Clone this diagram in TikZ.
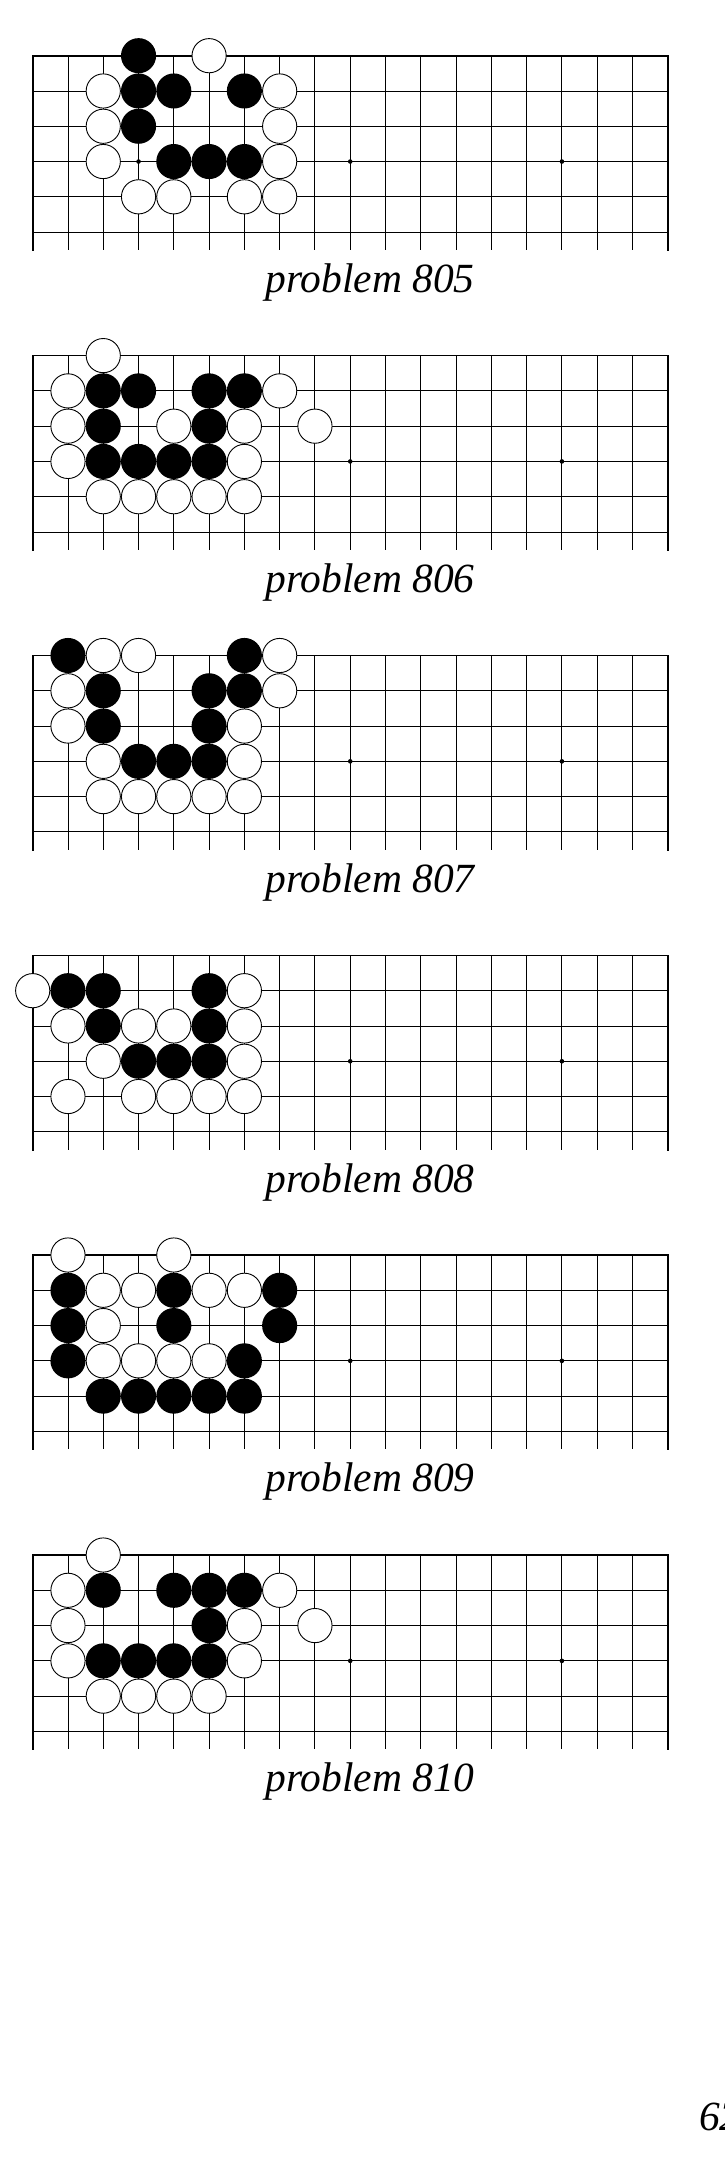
\documentclass[tikz,border=0pt]{standalone}
\usepackage{fontspec}
\setmainfont{Liberation Serif}
\tikzset{
  gridline/.style={line width=0.9pt, black},
  edgeline/.style={line width=1.7pt, black, line join=miter, line cap=rect},
  wstone/.style={fill=white, draw=black, line width=0.9pt},
  bstone/.style={fill=black},
  starpt/.style={fill=black},
  lab/.style={anchor=base, inner sep=0pt, font=\fontsize{41.5}{50}\selectfont\itshape}
}
\newcommand{\goboard}[5]{%
  \begin{scope}[shift={(0,#1)}]
    \foreach \r in {1,...,5} \draw[gridline] (32.7,\r*35.28) -- (667.74,\r*35.28);
    \foreach \c in {1,...,17} \draw[gridline] (32.7+\c*35.28,0) -- (32.7+\c*35.28,194.4);
    \draw[edgeline] (32.7,194.4) -- (32.7,0) -- (667.74,0) -- (667.74,194.4);
    \foreach \c in {3,9,15} \fill[starpt] (32.7+\c*35.28,3*35.28) circle (2.3);
    \foreach \c/\r in {#4} \draw[wstone] (32.7+\c*35.28,\r*35.28) circle (17.1);
    \foreach \c/\r in {#5} \fill[bstone] (32.7+\c*35.28,\r*35.28) circle (17.55);
    \node[lab] (#2) at (370,236.7) {problem #3};
  \end{scope}}
\begin{document}
\begin{tikzpicture}[x=1pt,y=-1pt]
\useasboundingbox (0,0) rectangle (724,2181);
\fill[white] (0,0) rectangle (724,2181);
\goboard{55.7}{p805}{805}%
  {5/0,2/1,7/1,2/2,7/2,2/3,7/3,3/4,4/4,6/4,7/4}%
  {3/0,3/1,4/1,6/1,3/2,4/3,5/3,6/3}
\goboard{355.6}{p806}{806}%
  {2/0,1/1,7/1,1/2,4/2,6/2,8/2,1/3,6/3,2/4,3/4,4/4,5/4,6/4}%
  {2/1,3/1,5/1,6/1,2/2,5/2,2/3,3/3,4/3,5/3}
\goboard{655.5}{p807}{807}%
  {2/0,3/0,7/0,1/1,7/1,1/2,6/2,2/3,6/3,2/4,3/4,4/4,5/4,6/4}%
  {1/0,6/0,2/1,5/1,6/1,2/2,5/2,3/3,4/3,5/3}
\goboard{955.4}{p808}{808}%
  {0/1,6/1,1/2,3/2,4/2,6/2,2/3,6/3,1/4,3/4,4/4,5/4,6/4}%
  {1/1,2/1,5/1,2/2,5/2,3/3,4/3,5/3}
\goboard{1255.0}{p809}{809}%
  {1/0,4/0,2/1,3/1,5/1,6/1,2/2,2/3,3/3,4/3,5/3}%
  {1/1,4/1,7/1,1/2,4/2,7/2,1/3,6/3,2/4,3/4,4/4,5/4,6/4}
\goboard{1555.0}{p810}{810}%
  {2/0,1/1,7/1,1/2,6/2,8/2,1/3,6/3,2/4,3/4,4/4,5/4}%
  {2/1,4/1,5/1,6/1,5/2,2/3,3/3,4/3,5/3}
\node[lab, anchor=base west] (pnum) at (699,2130) {62};
\end{tikzpicture}
\end{document}
